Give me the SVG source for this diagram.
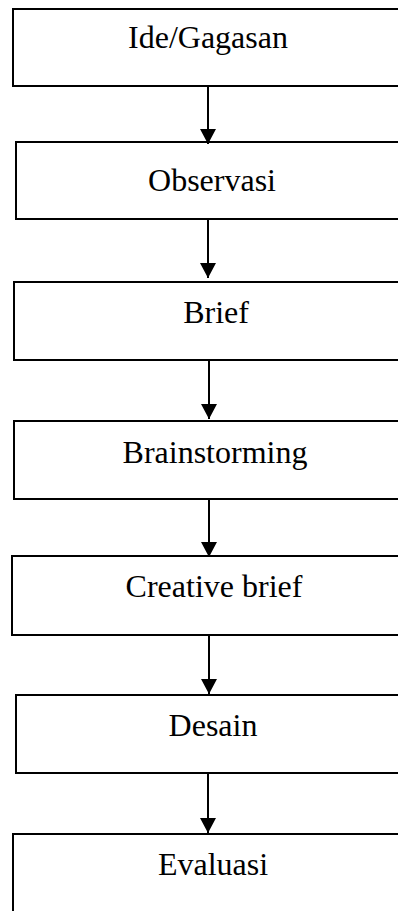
<svg xmlns="http://www.w3.org/2000/svg" width="398" height="911" viewBox="0 0 398 911">
<style>
.box{fill:#fff;stroke:#000;stroke-width:2}
.lbl{font-family:"Liberation Serif","Times New Roman",serif;font-size:32px;fill:#000;text-anchor:middle}
.con{stroke:#000;stroke-width:2;fill:none}
</style>
<defs>
<marker id="ah" markerUnits="userSpaceOnUse" markerWidth="16" markerHeight="16" viewBox="0 0 16 16" refX="15" refY="8" orient="auto">
<path d="M0,0 L15,8 L0,16 Z" fill="#000"/>
</marker>
</defs>
<rect width="398" height="911" fill="#fff"/>
<g id="n1"><rect class="box" x="13" y="9" width="420" height="77"/><text class="lbl" x="208" y="48">Ide/Gagasan</text></g>
<g id="n2"><rect class="box" x="16" y="142" width="420" height="77"/><text class="lbl" x="212" y="191">Observasi</text></g>
<g id="n3"><rect class="box" x="14" y="282" width="420" height="78"/><text class="lbl" x="216" y="323">Brief</text></g>
<g id="n4"><rect class="box" x="14" y="421" width="420" height="78"/><text class="lbl" x="215" y="463">Brainstorming</text></g>
<g id="n5"><rect class="box" x="12" y="556" width="420" height="79"/><text class="lbl" x="214" y="597">Creative brief</text></g>
<g id="n6"><rect class="box" x="16" y="695" width="420" height="78"/><text class="lbl" x="213" y="736">Desain</text></g>
<g id="n7"><rect class="box" x="13" y="834" width="420" height="100"/><text class="lbl" x="213" y="875">Evaluasi</text></g>
<g id="connectors">
<line class="con" x1="208" y1="86" x2="208" y2="144" marker-end="url(#ah)"/>
<line class="con" x1="208" y1="219" x2="208" y2="278" marker-end="url(#ah)"/>
<line class="con" x1="209" y1="360" x2="209" y2="419" marker-end="url(#ah)"/>
<line class="con" x1="209" y1="499" x2="209" y2="557" marker-end="url(#ah)"/>
<line class="con" x1="209" y1="635" x2="209" y2="694" marker-end="url(#ah)"/>
<line class="con" x1="208" y1="773" x2="208" y2="833" marker-end="url(#ah)"/>
</g>
</svg>
